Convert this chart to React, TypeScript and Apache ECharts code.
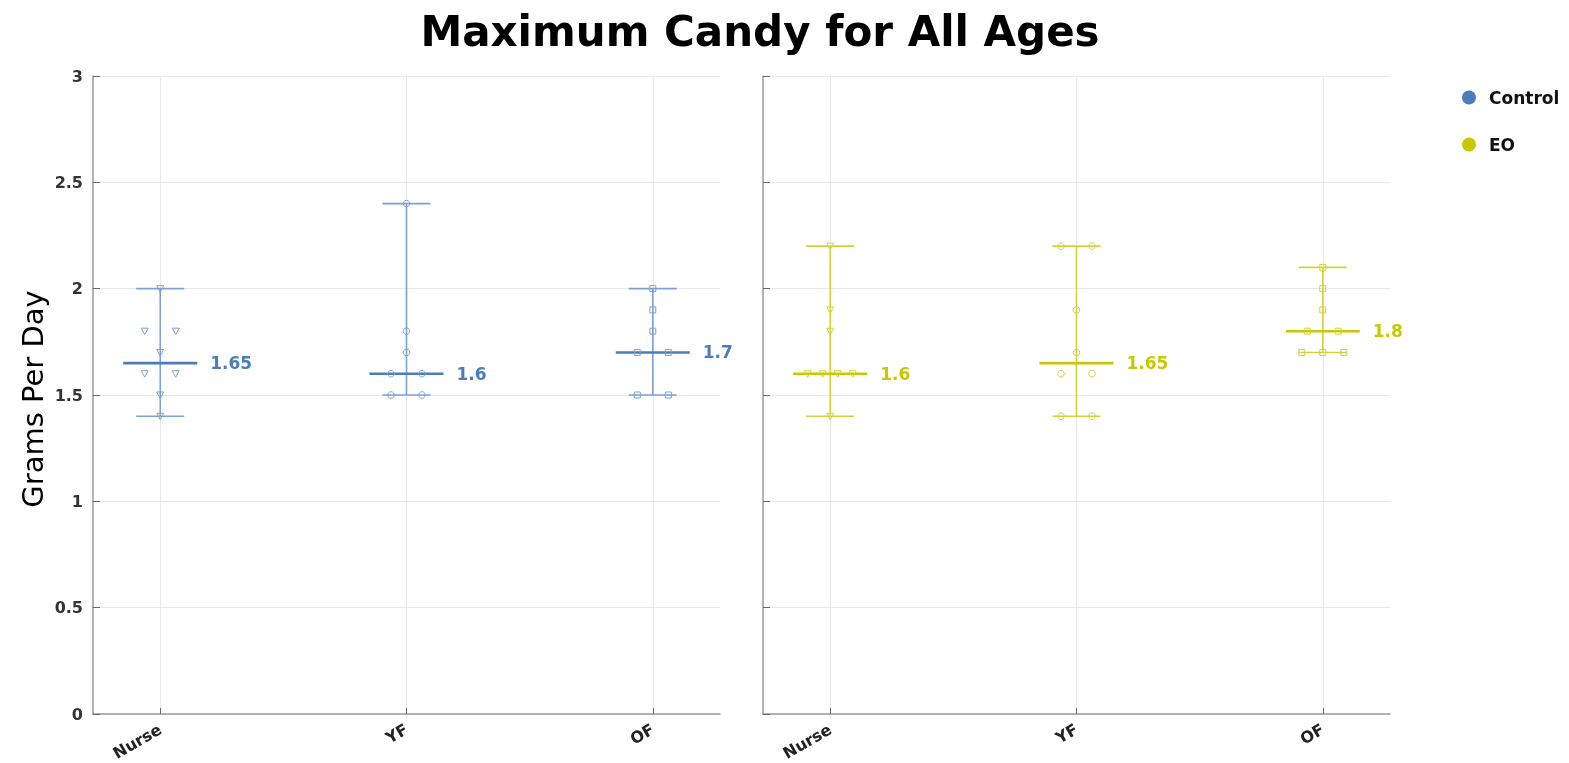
import React, { useEffect, useRef } from "react";
import * as echarts from "echarts";

const categories = ["Nurse", "YF", "OF"];
const groupNames = ["Control", "EO"];

const controlNurse = [2.0, 1.8, 1.8, 1.7, 1.6, 1.6, 1.5, 1.4];
const controlYF = [2.4, 1.8, 1.7, 1.6, 1.6, 1.5, 1.5];
const controlOF = [2.0, 1.9, 1.8, 1.7, 1.7, 1.5, 1.5];

const eoNurse = [2.2, 1.9, 1.8, 1.6, 1.6, 1.6, 1.6, 1.4];
const eoYF = [2.2, 2.2, 1.9, 1.7, 1.6, 1.6, 1.4, 1.4];
const eoOF = [2.1, 2.0, 1.9, 1.8, 1.8, 1.7, 1.7, 1.7];

const yTicks = [0, 0.5, 1, 1.5, 2, 2.5, 3];

const groupData = [
  [controlNurse, controlYF, controlOF],
  [eoNurse, eoYF, eoOF],
];
const symbolByCategory = ["triangle", "circle", "square"];

const COLORS = [
  { main: "#4a7dba", line: "#7ba2d2", point: "#7ba2d2" },
  { main: "#c9c800", line: "#d2d23a", point: "#d2d23a" },
];

const FONT = "'DejaVu Sans', sans-serif";

const jitterPx: Record<number, number[]> = {
  1: [0],
  2: [-15.5, 15.5],
  3: [-21, 0, 21],
  4: [-22.5, -7.5, 7.5, 22.5],
};

function median(arr: number[]) {
  const s = [...arr].sort((a, b) => a - b);
  const n = s.length;
  return n % 2 ? s[(n - 1) / 2] : (s[n / 2 - 1] + s[n / 2]) / 2;
}

function fmt(v: number) {
  return String(Math.round(v * 100) / 100);
}

function makeRenderItem(g: number) {
  const col = COLORS[g];
  return (params: any, api: any) => {
    const i = params.dataIndex;
    const vals = groupData[g][i];
    const cx = api.value(0);
    const med = api.value(1);
    const lo = api.value(2);
    const hi = api.value(3);
    const pLo = api.coord([cx, lo]);
    const pHi = api.coord([cx, hi]);
    const pMed = api.coord([cx, med]);
    const x = pMed[0];
    const children: any[] = [];
    children.push({
      type: "line",
      shape: { x1: x, y1: pLo[1], x2: x, y2: pHi[1] },
      style: { stroke: col.line, lineWidth: 1.6 },
    });
    [pLo[1], pHi[1]].forEach((yy) =>
      children.push({
        type: "line",
        shape: { x1: x - 24, y1: yy, x2: x + 24, y2: yy },
        style: { stroke: col.line, lineWidth: 1.6 },
      })
    );
    children.push({
      type: "line",
      shape: { x1: x - 37, y1: pMed[1], x2: x + 37, y2: pMed[1] },
      style: { stroke: col.main, lineWidth: 2.6 },
    });
    children.push({
      type: "text",
      x: x + 50,
      y: pMed[1],
      style: {
        text: fmt(med),
        fill: col.main,
        font: "bold 17px " + FONT,
        align: "left",
        verticalAlign: "middle",
      },
    });
    const groups: Record<string, number> = {};
    vals.forEach((v) => {
      groups[fmt(v)] = (groups[fmt(v)] || 0) + 1;
    });
    const sym = symbolByCategory[i];
    Object.keys(groups).forEach((k) => {
      const v = parseFloat(k);
      const n = groups[k];
      const offs = jitterPx[n] || [0];
      const p = api.coord([cx, v]);
      offs.forEach((o) => {
        const px = p[0] + o;
        const py = p[1];
        const st = { stroke: col.point, fill: "none", lineWidth: 1 };
        if (sym === "triangle") {
          children.push({
            type: "polygon",
            shape: { points: [[px - 3.5, py - 3], [px + 3.5, py - 3], [px, py + 3.5]] },
            style: st,
          });
        } else if (sym === "circle") {
          children.push({ type: "circle", shape: { cx: px, cy: py, r: 3.3 }, style: st });
        } else {
          children.push({ type: "rect", shape: { x: px - 3, y: py - 3, width: 6, height: 6 }, style: st });
        }
      });
    });
    return { type: "group", children };
  };
}

export default function App() {
  const ref = useRef<HTMLDivElement>(null);
  useEffect(() => {
    const chart = echarts.init(ref.current!, null, { renderer: "svg" });
    const axisLabelFont = { fontFamily: FONT, fontWeight: "bold", fontSize: 16, color: "#333" };
    const makeX = (gi: number) => ({
      type: "value",
      gridIndex: gi,
      min: 0.727,
      max: 3.273,
      axisLine: { show: true, onZero: false, lineStyle: { color: "#9a9a9a", width: 1.5 } },
      axisTick: { show: true, inside: true, length: 6, customValues: [1, 2, 3], lineStyle: { color: "#666" } },
      axisLabel: {
        ...axisLabelFont,
        fontSize: 16,
        color: "#222",
        customValues: [1, 2, 3],
        rotate: 30,
        margin: 14,
        formatter: (v: number) => categories[Math.round(v) - 1] || "",
      },
      splitLine: { show: true, lineStyle: { color: "#e8e8e8", width: 1 } },
    });
    const makeY = (gi: number) => ({
      type: "value",
      gridIndex: gi,
      min: 0,
      max: 3,
      interval: 0.5,
      axisLine: { show: true, lineStyle: { color: "#9a9a9a", width: 1.5 } },
      axisTick: { show: true, inside: true, length: 7, lineStyle: { color: "#666" } },
      axisLabel: {
        ...axisLabelFont,
        show: gi === 0,
        margin: 10,
        formatter: (v: number) => (yTicks.includes(v) ? String(v) : ""),
      },
      splitLine: { show: true, lineStyle: { color: "#e8e8e8", width: 1 } },
    });
    const series = [0, 1].map((g) => ({
      type: "custom",
      name: groupNames[g],
      xAxisIndex: g,
      yAxisIndex: g,
      itemStyle: { color: COLORS[g].main },
      renderItem: makeRenderItem(g),
      encode: { x: 0, y: [1, 2, 3] },
      data: groupData[g].map((vals, i) => [i + 1, median(vals), Math.min(...vals), Math.max(...vals)]),
    }));
    chart.setOption({
      animation: false,
      grid: [
        { left: 93, right: 849, top: 76, bottom: 49 },
        { left: 763, right: 179, top: 76, bottom: 49 },
      ],
      xAxis: [makeX(0), makeX(1)],
      yAxis: [makeY(0), makeY(1)],
      legend: {
        orient: "vertical",
        left: 1457,
        top: 84,
        itemWidth: 14,
        itemHeight: 14,
        itemGap: 30,
        icon: "circle",
        data: groupNames,
        textStyle: { fontFamily: FONT, fontWeight: "bold", fontSize: 17, color: "#111", padding: [0, 0, 0, 8] },
      },
      graphic: [
        {
          type: "text",
          x: 760,
          y: 31,
          style: {
            text: "Maximum Candy for All Ages",
            font: "bold 42px " + FONT,
            fill: "#000",
            align: "center",
            verticalAlign: "middle",
          },
        },
        {
          type: "text",
          x: 33,
          y: 399,
          rotation: Math.PI / 2,
          style: {
            text: "Grams Per Day",
            font: "29px " + FONT,
            fill: "#000",
            align: "center",
            verticalAlign: "middle",
          },
        },
      ],
      series,
    });
    return () => chart.dispose();
  }, []);
  return <div ref={ref} style={{ position: "fixed", left: 0, top: 0, width: 1569, height: 763 }} />;
}
